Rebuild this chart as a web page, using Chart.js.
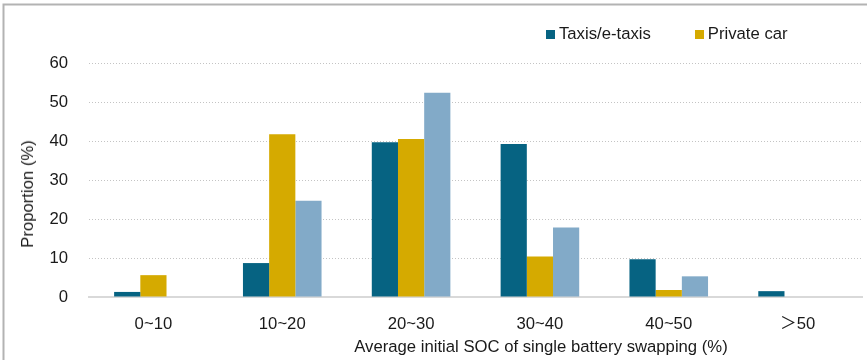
<!DOCTYPE html>
<html>
<head>
<meta charset="utf-8">
<script src="https://cdn.jsdelivr.net/npm/chart.js@4.4.1/dist/chart.umd.min.js"></script>
<style>
  body { margin: 0; background: #fff; }
  #wrap { position: relative; width: 867px; height: 360px; font-family: "Liberation Sans", Arial, sans-serif; color: #1a1a1a; }
  #legend { position: absolute; top: 24px; left: 546px; font-size: 16.7px; display: flex; }
  .item { display: flex; align-items: center; }
  .swatch { width: 9px; height: 9px; margin-right: 4px; }
  .axis-title { position: absolute; font-size: 16.7px; white-space: nowrap; line-height: 20px; }
  #xTitle { left: 541px; top: 337px; transform: translateX(-50%); }
  #yTitle { left: 28px; top: 194px; transform: translate(-50%, -50%) rotate(-90deg); }
</style>
</head>
<body>
<div id="wrap">
  <canvas id="socChart" width="867" height="360"></canvas>
  <div id="legend"></div>
  <div class="axis-title" id="xTitle"></div>
  <div class="axis-title" id="yTitle"></div>
</div>
<script>
// Data
const categories = ['0~10', '10~20', '20~30', '30~40', '40~50', '\uff1e50'];
const taxiValues = [1.3, 8.7, 39.7, 39.2, 9.7, 1.5];
const privateValues = [5.6, 41.7, 40.5, 10.4, 1.8, 0];
const otherValues = [0, 24.7, 52.4, 17.8, 5.3, 0];
const yTicks = [0, 10, 20, 30, 40, 50, 60];
const xTitle = 'Average initial SOC of single battery swapping (%)';
const yTitle = 'Proportion (%)';

const colors = {
    taxi: '#066382',
    private: '#d5aa00',
    other: '#82aac8',
    grid: '#c4c4c4',
    axis: '#d9d9d9',
    text: '#1a1a1a'
};

// Legend only lists the first two series
const legendItems = [
    { label: 'Taxis/e-taxis', color: colors.taxi, gap: 0 },
    { label: 'Private car', color: colors.private, gap: 44 }
];
const legendEl = document.getElementById('legend');
legendItems.forEach(item => {
    const el = document.createElement('div');
    el.className = 'item';
    el.style.marginLeft = item.gap + 'px';
    el.innerHTML = '<span class="swatch" style="background:' + item.color + '"></span><span>' + item.label + '</span>';
    legendEl.appendChild(el);
});

// Axis titles sit off-centre in the original, so they are placed by hand
document.getElementById('xTitle').textContent = xTitle;
document.getElementById('yTitle').textContent = yTitle;

// Frame lines at top and left like the original figure
const framePlugin = {
    id: 'frame',
    afterDraw(chart) {
        const ctx = chart.ctx;
        ctx.save();
        ctx.strokeStyle = '#b3b3b3';
        ctx.lineWidth = 2;
        ctx.beginPath();
        ctx.moveTo(3.5, 360);
        ctx.lineTo(3.5, 4.5);
        ctx.lineTo(867, 4.5);
        ctx.stroke();
        ctx.restore();
    }
};

Chart.defaults.font.family = "'Liberation Sans', Arial, 'Noto Sans CJK SC', sans-serif";
Chart.defaults.font.size = 16.7;
Chart.defaults.color = colors.text;

new Chart(document.getElementById('socChart').getContext('2d'), {
    type: 'bar',
    data: {
        labels: categories,
        datasets: [{
            label: 'Taxis/e-taxis',
            data: taxiValues,
            backgroundColor: colors.taxi
        }, {
            label: 'Private car',
            data: privateValues,
            backgroundColor: colors.private
        }, {
            label: 'Other',
            data: otherValues,
            backgroundColor: colors.other
        }]
    },
    options: {
        responsive: false,
        animation: false,
        categoryPercentage: 0.61,
        barPercentage: 1,
        layout: {
            padding: { top: 63, right: 5, bottom: 2, left: 18 }
        },
        plugins: {
            legend: { display: false },
            tooltip: { enabled: false }
        },
        scales: {
            x: {
                afterFit: axis => { axis.height = 61; },
                grid: { display: false, drawTicks: false },
                border: { color: colors.axis, width: 2 },
                ticks: { padding: 17 }
            },
            y: {
                min: 0,
                max: 60,
                afterBuildTicks: axis => { axis.ticks = yTicks.map(v => ({ value: v })); },
                afterFit: axis => { axis.width = 71; },
                grid: {
                    color: ctx => ctx.tick.value === 0 ? 'rgba(0,0,0,0)' : colors.grid,
                    drawTicks: false
                },
                border: { display: false, dash: [1, 2] },
                ticks: { padding: 21 }
            }
        }
    },
    plugins: [framePlugin]
});
</script>
</body>
</html>
